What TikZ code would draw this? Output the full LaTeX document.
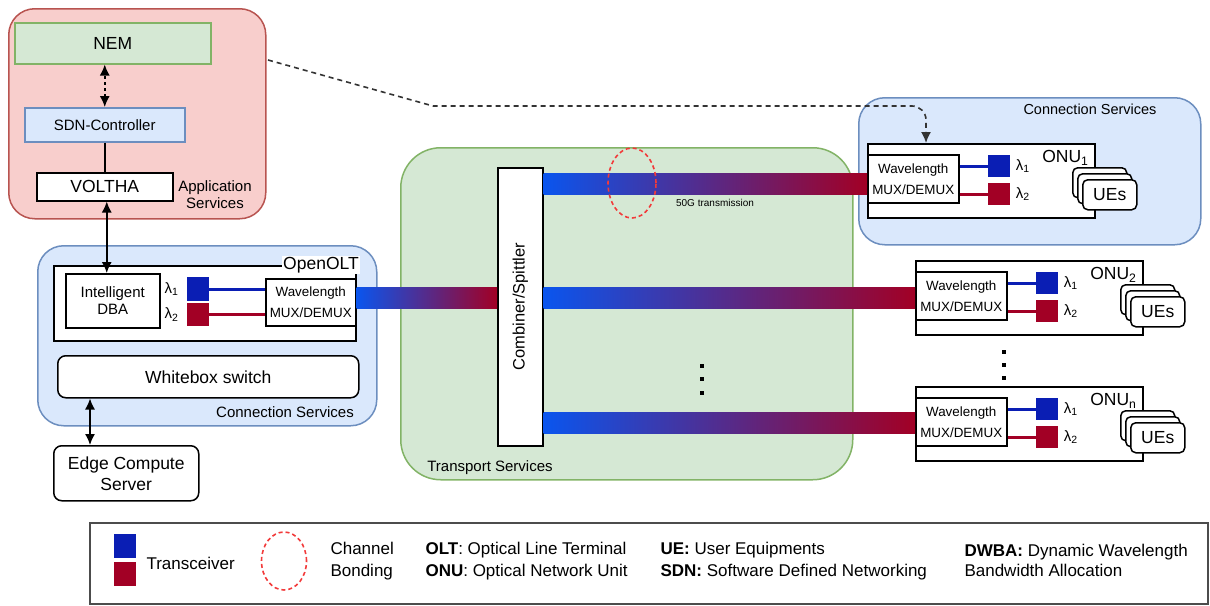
\documentclass[tikz,border=0pt]{standalone}
\usepackage{fontspec}
\setmainfont{Liberation Sans}
\usepackage{tikz}
\usetikzlibrary{arrows.meta, positioning, calc}

\definecolor{appfill}{HTML}{F8CECC}
\definecolor{appline}{HTML}{B85450}
\definecolor{consfill}{HTML}{DAE8FC}
\definecolor{consline}{HTML}{6C8EBF}
\definecolor{trfill}{HTML}{D5E8D4}
\definecolor{trline}{HTML}{82B366}
\definecolor{lamblue}{HTML}{0A1EB4}
\definecolor{lamred}{HTML}{A20025}
\definecolor{fibblue}{HTML}{0A55EE}
\definecolor{bondred}{HTML}{F23A3A}

\begin{document}
\begin{tikzpicture}[
  x=1pt, y=-1pt,
  >={Latex[length=11pt, width=10pt]},
  bigf/.style={font=\fontsize{17.5}{21}\selectfont},
  midf/.style={font=\fontsize{15}{17}\selectfont},
  legf/.style={font=\fontsize{17}{22}\selectfont},
  area/.style={draw, line width=1.5pt, rounded corners=26pt, anchor=north west, inner sep=0pt},
  box/.style={draw, fill=white, line width=1.5pt, anchor=north west, inner sep=0pt, align=center},
  muxbox/.style={box, minimum width=91pt, minimum height=48pt, font=\fontsize{13.4}{21}\selectfont},
  txsq/.style={anchor=north west, minimum width=22pt, minimum height=23pt, inner sep=0pt},
  uebox/.style={box, rounded corners=5pt, minimum width=54pt, minimum height=30pt, bigf},
  bluelink/.style={draw=lamblue, line width=3pt},
  redlink/.style={draw=lamred, line width=3pt},
  fiber/.style={left color=fibblue, right color=lamred},
  bond/.style={draw=bondred, line width=1.6pt, dash pattern=on 4pt off 3pt},
  ctl/.style={draw=black!80, line width=1.6pt, dash pattern=on 5pt off 4pt},
  dot/.style={fill=black, minimum size=4.5pt, inner sep=0pt}
]
  \useasboundingbox (0,0) rectangle (1210,605);

  % application services
  \node[area, fill=appfill, draw=appline, minimum width=257pt, minimum height=210pt] (app) at (8,8) {};
  \node[box, fill=trfill, draw=trline, minimum width=196pt, minimum height=41pt, bigf] (nem) at (14,22) {NEM};
  \node[box, fill=consfill, draw=consline, minimum width=160pt, minimum height=34pt, midf] (sdn) at (24,107) {SDN-Controller};
  \node[box, minimum width=136pt, minimum height=28pt, bigf] (voltha) at (36,172) {VOLTHA};
  \node[midf, align=center] (apptxt) at (215,195) {Application\\Services};
  \draw[dashed, line width=1.5pt, <->] (sdn.north) -- (sdn.north |- nem.south);
  \draw[line width=1.5pt] (sdn.south) -- (sdn.south |- voltha.north);

  % OLT side
  \node[area, fill=consfill, draw=consline, minimum width=339pt, minimum height=180pt] (oltcs) at (37,245) {};
  \node[box, minimum width=302pt, minimum height=75pt] (olt) at (53,265) {};
  \node[fill=white, inner sep=1pt, bigf] (olttxt) at (321,265) {OpenOLT};
  \node[box, minimum width=94pt, minimum height=54pt, midf] (dba) at (65,273) {Intelligent\\DBA};
  \node[txsq, fill=lamblue, minimum height=24pt] (oq1) at (187,277) {};
  \node[txsq, fill=lamred] (oq2) at (187,303) {};
  \node[midf, left=5pt of oq1] (ol1) {λ\textsubscript{1}};
  \node[midf, left=5pt of oq2] (ol2) {λ\textsubscript{2}};
  \node[muxbox, minimum width=90pt, minimum height=47pt] (oltmux) at (265,278) {Wavelength\\MUX/DEMUX};
  \draw[bluelink] (oq1.east) -- (oq1.east -| oltmux.west);
  \draw[redlink] (oq2.east) -- (oq2.east -| oltmux.west);
  \node[box, rounded corners=8pt, minimum width=301pt, minimum height=42pt, bigf] (wbox) at (57,355) {Whitebox switch};
  \node[midf] (olttag) at (285,412) {Connection Services};
  \node[box, rounded corners=8pt, minimum width=145pt, minimum height=55pt, bigf] (edge) at (53,445) {Edge Compute\\Server};
  \draw[line width=1.5pt, <->] ([xshift=2pt]voltha.south) -- ([xshift=2pt]voltha.south |- dba.north);
  \draw[line width=1.5pt, <->] ([xshift=33pt]wbox.south west) -- ([xshift=33pt]wbox.south west |- edge.north);

  % transport services
  \node[area, rounded corners=40pt, fill=trfill, draw=trline, minimum width=452pt, minimum height=332pt] (trans) at (400,147) {};
  \node[midf] (transtag) at (490,468) {Transport Services};
  \node[box, minimum width=45pt, minimum height=278pt] (comb) at (497,167) {};
  \node[rotate=90, font=\fontsize{16.5}{20}\selectfont] (combtxt) at (comb.center) {Combiner/Spittler};

  % ONU side
  \node[area, fill=consfill, draw=consline, minimum width=342pt, minimum height=147pt] (onucs) at (858,97) {};
  \node[font=\fontsize{14.5}{17}\selectfont] (onutag) at (1090,109) {Connection Services};
  \foreach \n/\x/\y in {1/867/143, 2/915/260, n/915/386}{
    \node[box, minimum width=227pt, minimum height=74pt] (onu\n) at (\x,\y) {};
    \node[muxbox] (mux\n) at (\x,\y+11) {Wavelength\\MUX/DEMUX};
    \node[txsq, fill=lamblue, minimum height=22pt] (sqa\n) at (\x+121,\y+12) {};
    \node[txsq, fill=lamred, minimum height=22pt] (sqb\n) at (\x+121,\y+40) {};
    \node[midf, right=2pt of sqa\n] {λ\textsubscript{1}};
    \node[midf, right=2pt of sqb\n] {λ\textsubscript{2}};
    \draw[bluelink] (mux\n.east |- sqa\n) -- (sqa\n.west);
    \draw[redlink] (mux\n.east |- sqb\n) -- (sqb\n.west);
    \node[bigf, anchor=north east] (onutxt\n) at (\x+225,\y+4) {ONU\textsubscript{\n}};
    \node[uebox] (uec\n) at (\x+205,\y+24) {};
    \node[uebox] (ueb\n) at (\x+210,\y+30) {};
    \node[uebox] (uea\n) at (\x+215,\y+36) {UEs};
  }

  % fibres
  \shade[fiber] ($(oltmux.east |- mux2.west)+(0,-8.5)$) rectangle ($(comb.west |- mux2.west)+(0,12.5)$);
  \shade[fiber] ($(comb.east |- mux1.west)+(0,-5.5)$) rectangle ($(mux1.west)+(0,15.5)$);
  \shade[fiber] ($(comb.east |- mux2.west)+(0,-8.5)$) rectangle ($(mux2.west)+(0,12.5)$);
  \shade[fiber] ($(comb.east |- muxn.west)+(0,-9.5)$) rectangle ($(muxn.west)+(0,11.5)$);
  \draw[bond] (632,183) ellipse [x radius=24pt, y radius=35pt];
  \node[font=\fontsize{10}{12}\selectfont] (rate) at (715,203) {50G transmission};
  \foreach \yy in {366,379,393} \node[dot] at (702,\yy) {};
  \foreach \yy in {352,365,378} \node[dot] at (1004,\yy) {};

  % control path
  \coordinate (ctlout) at (268,60);
  \coordinate (ctlbend) at (433,106);
  \coordinate (ctlturn) at (926,106);
  \draw[ctl, ->] (ctlout) -- (ctlbend) [rounded corners=14pt] -- (ctlturn) -- (ctlturn |- onu1.north);

  % legend
  \node[draw=black!70, line width=1.5pt, anchor=north west, minimum width=1118pt, minimum height=81pt, inner sep=0pt] (legend) at (89,522) {};
  \node[txsq, fill=lamblue, minimum height=24pt] (legq1) at (114,534) {};
  \node[txsq, fill=lamred, minimum height=24pt] (legq2) at (114,562) {};
  \node[legf, anchor=west] (legtx) at (143,563) {Transceiver};
  \draw[bond] (284,561) ellipse [x radius=22.5pt, y radius=29pt];
  \node[legf, anchor=west, align=left] (legcb) at (327,561) {Channel\\Bonding};
  \node[legf, anchor=west] (legolt) at (422,550) {\textbf{OLT}: Optical Line Terminal};
  \node[legf, anchor=west] (legonu) at (422,572) {\textbf{ONU}: Optical Network Unit};
  \node[legf, anchor=west] (legue) at (657,550) {\textbf{UE:} User Equipments};
  \node[legf, anchor=west] (legsdn) at (657,572) {\textbf{SDN:} Software Defined Networking};
  \node[legf, anchor=west, align=left, font=\fontsize{17}{20}\selectfont] (legdwba) at (961,560) {\textbf{DWBA:} Dynamic Wavelength\\Bandwidth Allocation};
\end{tikzpicture}
\end{document}
